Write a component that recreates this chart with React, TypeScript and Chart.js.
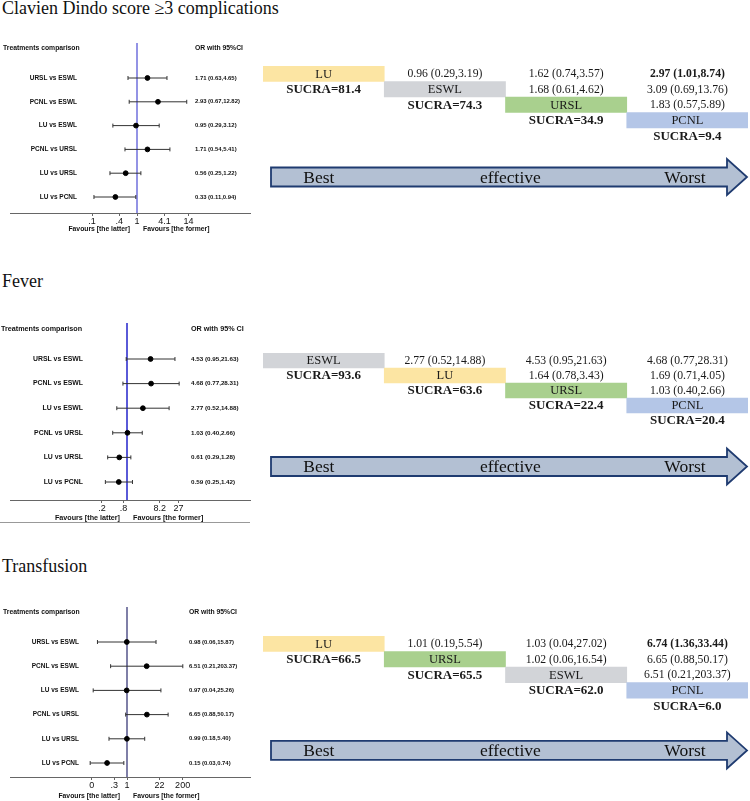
import React, { useEffect, useRef } from "react";
import { Chart, registerables } from "chart.js";
Chart.register(...registerables);

// ---------------- DATA ----------------
const comparisons = ["URSL vs ESWL", "PCNL vs ESWL", "LU vs ESWL", "PCNL vs URSL", "LU vs URSL", "LU vs PCNL"];

const clavienOR = [1.71, 2.93, 0.95, 1.71, 0.56, 0.33];
const clavienLo = [0.63, 0.67, 0.29, 0.54, 0.25, 0.11];
const clavienHi = [4.65, 12.82, 3.12, 5.41, 1.22, 0.94];
const clavienTicks = [0.1, 0.4, 1, 4.1, 14];
const clavienTickLabels = [".1", ".4", "1", "4.1", "14"];

const feverOR = [4.53, 4.68, 2.77, 1.03, 0.61, 0.59];
const feverLo = [0.95, 0.77, 0.52, 0.4, 0.29, 0.25];
const feverHi = [21.63, 28.31, 14.88, 2.66, 1.28, 1.42];
const feverTicks = [0.2, 0.8, 8.2, 27];
const feverTickLabels = [".2", ".8", "8.2", "27"];

const transOR = [0.98, 6.51, 0.97, 6.65, 0.99, 0.15];
const transLo = [0.06, 0.21, 0.04, 0.88, 0.18, 0.03];
const transHi = [15.87, 203.37, 25.26, 50.17, 5.4, 0.74];
const transTicks = [0.035, 0.3, 1, 22, 200];
const transTickLabels = ["0", ".3", "1", "22", "200"];

const clavienOrder = ["LU", "ESWL", "URSL", "PCNL"];
const clavienSucra = ["81.4", "74.3", "34.9", "9.4"];
const clavienCells = [
  ["0.96 (0.29,3.19)", "1.62 (0.74,3.57)", "2.97 (1.01,8.74)"],
  ["1.68 (0.61,4.62)", "3.09 (0.69,13.76)"],
  ["1.83 (0.57,5.89)"],
];
const clavienSig = ["0-3"];

const feverOrder = ["ESWL", "LU", "URSL", "PCNL"];
const feverSucra = ["93.6", "63.6", "22.4", "20.4"];
const feverCells = [
  ["2.77 (0.52,14.88)", "4.53 (0.95,21.63)", "4.68 (0.77,28.31)"],
  ["1.64 (0.78,3.43)", "1.69 (0.71,4.05)"],
  ["1.03 (0.40,2.66)"],
];
const feverSig: string[] = [];

const transOrder = ["LU", "URSL", "ESWL", "PCNL"];
const transSucra = ["66.5", "65.5", "62.0", "6.0"];
const transCells = [
  ["1.01 (0.19,5.54)", "1.03 (0.04,27.02)", "6.74 (1.36,33.44)"],
  ["1.02 (0.06,16.54)", "6.65 (0.88,50.17)"],
  ["6.51 (0.21,203.37)"],
];
const transSig = ["0-3"];

const treatmentColors: Record<string, string> = {
  LU: "#fce5a3",
  ESWL: "#d2d4d8",
  URSL: "#a9d08e",
  PCNL: "#b4c6e7",
};

const SANS = '"Liberation Sans", Arial, sans-serif';
const SERIF = '"Liberation Serif", "Times New Roman", serif';

// ---------------- FOREST PLOT ----------------
type ForestProps = {
  top: number; height: number;
  or: number[]; lo: number[]; hi: number[];
  ticks: number[]; tickLabels: string[];
  areaTop: number; areaBottom: number; row0: number; step: number;
  p1: number; k: number; labelRight: number; headerY: number; headerLeft: number;
  orLeft: number; orHeader: string; favoursDy: number; refColor: string; refWidth: number;
  fs: number;
  separatorY?: number;
};

function ForestPlot(p: ForestProps) {
  const ref = useRef<HTMLCanvasElement | null>(null);
  useEffect(() => {
    const W = 260;
    const xmin = Math.exp((10 - p.p1) / p.k);
    const xmax = Math.exp((250 - p.p1) / p.k);
    const ymin = (p.areaTop - p.row0) / p.step;
    const ymax = (p.areaBottom - p.row0) / p.step;
    const axisH = 12;
    const ciSets = p.or.map((_, i) => ({
      type: "scatter" as const,
      data: [{ x: p.lo[i], y: i }, { x: p.hi[i], y: i }],
      showLine: true,
      borderColor: "#333",
      borderWidth: 1,
      pointStyle: "line" as const,
      rotation: 90,
      pointRadius: 2,
      pointBorderColor: "#333",
      pointBorderWidth: 1,
    }));
    const textPlugin = {
      id: "forestText",
      afterDraw(chart: any) {
        const ctx = chart.ctx;
        const xs = chart.scales.x;
        const ys = chart.scales.y;
        ctx.save();
        ctx.fillStyle = "#111";
        ctx.textBaseline = "middle";
        ctx.textAlign = "left";
        ctx.font = `bold ${6.8 * p.fs}px ${SANS}`;
        ctx.fillText("Treatments comparison", p.headerLeft, p.headerY - p.top);
        ctx.fillText(p.orHeader, p.orLeft, p.headerY - p.top);
        ctx.textAlign = "right";
        ctx.font = `bold ${6.5 * p.fs}px ${SANS}`;
        comparisons.forEach((c, i) => ctx.fillText(c, p.labelRight, ys.getPixelForValue(i)));
        ctx.textAlign = "left";
        ctx.font = `bold ${5.9 * p.fs}px ${SANS}`;
        p.or.forEach((v, i) =>
          ctx.fillText(`${v.toFixed(2)} (${p.lo[i].toFixed(2)},${p.hi[i].toFixed(2)})`, p.orLeft, ys.getPixelForValue(i))
        );
        const x1 = xs.getPixelForValue(1);
        const fy = xs.top + p.favoursDy;
        ctx.font = `bold ${6.8 * p.fs}px ${SANS}`;
        ctx.textAlign = "right";
        ctx.fillText("Favours [the latter]", x1 - 7, fy);
        ctx.textAlign = "left";
        ctx.fillText("Favours [the former]", x1 + 6, fy);
        if (p.separatorY) {
          ctx.strokeStyle = "#999";
          ctx.lineWidth = 1;
          ctx.beginPath();
          ctx.moveTo(0, p.separatorY - p.top + 0.5);
          ctx.lineTo(250, p.separatorY - p.top + 0.5);
          ctx.stroke();
        }
        ctx.restore();
      },
    };
    const chart = new Chart(ref.current as HTMLCanvasElement, {
      type: "scatter",
      data: {
        datasets: [
          {
            data: p.or.map((v, i) => ({ x: v, y: i })),
            pointRadius: 2.4,
            pointBackgroundColor: "#000",
            pointBorderColor: "#000",
          } as any,
          ...ciSets,
          {
            data: [{ x: 1, y: ymin }, { x: 1, y: ymax }],
            showLine: true,
            borderColor: p.refColor,
            borderWidth: p.refWidth,
            pointRadius: 0,
          },
        ],
      },
      options: {
        animation: false,
        responsive: false,
        layout: {
          padding: {
            left: 10,
            right: W - 250,
            top: p.areaTop - p.top,
            bottom: p.height - (p.areaBottom - p.top) - axisH,
          },
        },
        plugins: { legend: { display: false }, tooltip: { enabled: false } },
        scales: {
          x: {
            type: "logarithmic",
            min: xmin,
            max: xmax,
            position: "bottom",
            grid: { drawOnChartArea: false, drawTicks: true, tickLength: 3, color: "#666" },
            border: { display: true, color: "#666", width: 1 },
            ticks: {
              autoSkip: false,
              maxRotation: 0,
              padding: 0,
              color: "#111",
              font: { family: SANS, size: 9 },
              callback: (_v: any, i: number) => p.tickLabels[i],
            },
            afterBuildTicks: (s: any) => {
              s.ticks = p.ticks.map((v) => ({ value: v }));
            },
            afterFit: (s: any) => {
              s.height = axisH;
            },
          } as any,
          y: { type: "linear", reverse: true, min: ymin, max: ymax, display: false },
        },
      },
      plugins: [textPlugin],
    });
    return () => chart.destroy();
  }, []);
  return (
    <canvas
      ref={ref}
      width={260}
      height={p.height}
      style={{ position: "absolute", left: 0, top: p.top, width: 260, height: p.height }}
    />
  );
}

// ---------------- LEAGUE TABLE ----------------
type LeagueProps = {
  tableTop: number; rowH: number; order: string[]; sucra: string[]; cells: string[][];
  sig: string[]; arrowOffset: number;
};

function League(p: LeagueProps) {
  const ref = useRef<HTMLCanvasElement | null>(null);
  const padTop = 5;
  const canvasTop = p.tableTop - padTop;
  const canvasH = padTop + p.arrowOffset + 26;
  useEffect(() => {
    const textPlugin = {
      id: "leagueText",
      afterDatasetsDraw(chart: any) {
        const ctx = chart.ctx;
        const xs = chart.scales.x;
        const ys = chart.scales.y;
        ctx.save();
        ctx.fillStyle = "#1a1a1a";
        ctx.textBaseline = "middle";
        ctx.textAlign = "center";
        p.order.forEach((name, r) => {
          ctx.font = `12.5px ${SERIF}`;
          ctx.fillText(name, xs.getPixelForValue(r + 0.5), ys.getPixelForValue(r) + 0.5);
          ctx.font = `bold 13px ${SERIF}`;
          ctx.fillText(`SUCRA=${p.sucra[r]}`, xs.getPixelForValue(r + 0.5), ys.getPixelForValue(r + 1) + 0.5);
        });
        p.cells.forEach((row, r) => {
          row.forEach((txt, j) => {
            const c = r + 1 + j;
            const bold = p.sig.includes(`${r}-${c}`);
            ctx.font = `${bold ? "bold " : ""}11.7px ${SERIF}`;
            ctx.fillText(txt, xs.getPixelForValue(c + 0.5), ys.getPixelForValue(r) + 0.5);
          });
        });
        // arrow
        const x0 = xs.getPixelForValue(0) + 8;
        const x1 = xs.getPixelForValue(4) - 1;
        const cy = chart.chartArea.top + p.arrowOffset;
        const bh = 9.5, hh = 18, hl = 20;
        ctx.beginPath();
        ctx.moveTo(x0, cy - bh);
        ctx.lineTo(x1 - hl, cy - bh);
        ctx.lineTo(x1 - hl, cy - hh);
        ctx.lineTo(x1, cy);
        ctx.lineTo(x1 - hl, cy + hh);
        ctx.lineTo(x1 - hl, cy + bh);
        ctx.lineTo(x0, cy + bh);
        ctx.closePath();
        ctx.fillStyle = "#b3c0d3";
        ctx.fill();
        ctx.strokeStyle = "#1f3b70";
        ctx.lineWidth = 1.8;
        ctx.lineJoin = "miter";
        ctx.stroke();
        ctx.fillStyle = "#111";
        ctx.font = `17.5px ${SERIF}`;
        ctx.fillText("Best", xs.getPixelForValue(0.46), cy + 1);
        ctx.fillText("effective", xs.getPixelForValue(2.04), cy + 1);
        ctx.fillText("Worst", xs.getPixelForValue(3.48), cy + 1);
        ctx.restore();
      },
    };
    const rowLabels = ["r0", "r1", "r2", "r3", "r4"];
    const chart = new Chart(ref.current as HTMLCanvasElement, {
      type: "bar",
      data: {
        labels: rowLabels,
        datasets: [
          {
            data: [...p.order.map((_, i) => [i, i + 1] as [number, number]), null] as any,
            backgroundColor: p.order.map((n) => treatmentColors[n]),
            borderWidth: 0,
            barPercentage: 1,
            categoryPercentage: 1,
          },
        ],
      },
      options: {
        indexAxis: "y",
        animation: false,
        responsive: false,
        layout: { padding: { left: 3, right: 2, top: padTop, bottom: canvasH - padTop - 5 * p.rowH } },
        plugins: { legend: { display: false }, tooltip: { enabled: false } },
        scales: {
          x: { type: "linear", min: 0, max: 4, display: false },
          y: { type: "category", offset: true, display: false },
        },
      },
      plugins: [textPlugin],
    });
    return () => chart.destroy();
  }, []);
  return (
    <canvas
      ref={ref}
      width={490}
      height={canvasH}
      style={{ position: "absolute", left: 260, top: canvasTop, width: 490, height: canvasH }}
    />
  );
}

const titleStyle = (top: number): React.CSSProperties => ({
  position: "absolute",
  left: 2,
  top,
  fontFamily: SERIF,
  fontSize: 18,
  lineHeight: "18px",
  color: "#111",
  whiteSpace: "nowrap",
});

export default function App() {
  return (
    <div
      style={{
        position: "absolute",
        left: 0,
        top: 0,
        width: 750,
        height: 801,
        background: "#fff",
        overflow: "hidden",
      }}
    >
      <div style={titleStyle(-1)}>Clavien Dindo score ≥3 complications</div>
      <div style={titleStyle(272)}>Fever</div>
      <div style={titleStyle(557)}>Transfusion</div>

      <ForestPlot
        top={36} height={202}
        or={clavienOR} lo={clavienLo} hi={clavienHi}
        ticks={clavienTicks} tickLabels={clavienTickLabels}
        areaTop={43} areaBottom={213} row0={78} step={23.8}
        p1={137} k={19.5} labelRight={77} headerY={48} headerLeft={3}
        orLeft={195} orHeader="OR with 95%CI" favoursDy={16} refColor="#5a5ad8" refWidth={1.3} fs={1}
      />
      <ForestPlot
        top={316} height={212}
        or={feverOR} lo={feverLo} hi={feverHi}
        ticks={feverTicks} tickLabels={feverTickLabels}
        areaTop={323} areaBottom={500} row0={359} step={24.6}
        p1={127} k={15.6} labelRight={83} headerY={329} headerLeft={1}
        orLeft={191} orHeader="OR with 95% CI" favoursDy={18} refColor="#5a5ad8" refWidth={2} fs={1.06}
        separatorY={522}
      />
      <ForestPlot
        top={598} height={203}
        or={transOR} lo={transLo} hi={transHi}
        ticks={transTicks} tickLabels={transTickLabels}
        areaTop={607} areaBottom={777} row0={642} step={24.2}
        p1={127} k={10.5} labelRight={79} headerY={612} headerLeft={3}
        orLeft={189} orHeader="OR with 95%CI" favoursDy={19} refColor="#2b2b6e" refWidth={1.2} fs={1}
      />

      <League tableTop={66} rowH={15.5} order={clavienOrder} sucra={clavienSucra} cells={clavienCells} sig={clavienSig} arrowOffset={111} />
      <League tableTop={352.5} rowH={15.1} order={feverOrder} sucra={feverSucra} cells={feverCells} sig={feverSig} arrowOffset={113.5} />
      <League tableTop={635.6} rowH={15.6} order={transOrder} sucra={transSucra} cells={transCells} sig={transSig} arrowOffset={114.4} />
    </div>
  );
}
